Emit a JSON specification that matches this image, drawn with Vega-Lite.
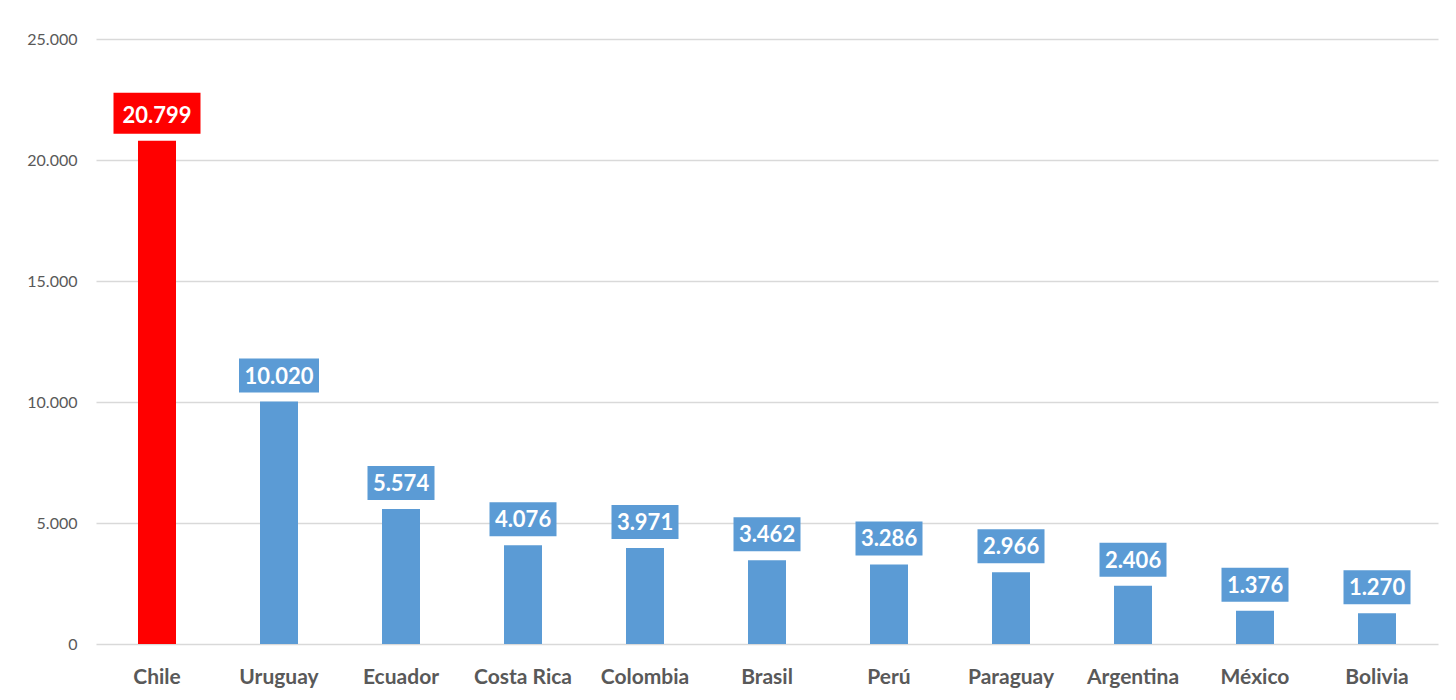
{
  "$schema": "https://vega.github.io/schema/vega-lite/v6.json",
  "autosize": "none",
  "width": 1342,
  "height": 605,
  "padding": {"left": 96, "top": 39, "right": 18, "bottom": 56},
  "background": "#ffffff",
  "config": {
    "view": {"stroke": null},
    "font": "Lato"
  },
  "data": {
    "values": [
      {"pais": "Chile", "valor": 20799},
      {"pais": "Uruguay", "valor": 10020},
      {"pais": "Ecuador", "valor": 5574},
      {"pais": "Costa Rica", "valor": 4076},
      {"pais": "Colombia", "valor": 3971},
      {"pais": "Brasil", "valor": 3462},
      {"pais": "Perú", "valor": 3286},
      {"pais": "Paraguay", "valor": 2966},
      {"pais": "Argentina", "valor": 2406},
      {"pais": "México", "valor": 1376},
      {"pais": "Bolivia", "valor": 1270}
    ]
  },
  "encoding": {
    "x": {
      "field": "pais",
      "type": "nominal",
      "sort": null,
      "scale": {"paddingInner": 0, "paddingOuter": 0},
      "axis": {
        "title": null,
        "labelAngle": 0,
        "labelFont": "Lato",
        "labelFontSize": 21,
        "labelFontWeight": "bold",
        "labelColor": "#595959",
        "labelPadding": 22,
        "ticks": false,
        "domain": false
      }
    },
    "y": {
      "field": "valor",
      "type": "quantitative",
      "scale": {"domain": [0, 25000], "nice": false},
      "axis": {
        "title": null,
        "values": [0, 5000, 10000, 15000, 20000, 25000],
        "labelExpr": "replace(format(datum.value, ','), ',', '.')",
        "labelFont": "Lato",
        "labelFontSize": 16,
        "labelColor": "#595959",
        "labelPadding": 19,
        "ticks": false,
        "domain": false,
        "gridColor": "#d9d9d9",
        "gridWidth": 1.5
      }
    }
  },
  "layer": [
    {
      "mark": {"type": "bar", "width": 38},
      "encoding": {
        "color": {
          "condition": {"test": "datum.pais === 'Chile'", "value": "#FF0000"},
          "value": "#5B9BD5"
        }
      }
    },
    {
      "transform": [{"filter": "datum.pais === 'Chile'"}],
      "mark": {"type": "bar", "width": 87, "yOffset": -7, "y2Offset": -48, "color": "#FF0000"},
      "encoding": {"y2": {"field": "valor"}}
    },
    {
      "transform": [{"filter": "datum.pais === 'Uruguay'"}],
      "mark": {"type": "bar", "width": 80, "yOffset": -9, "y2Offset": -43, "color": "#5B9BD5"},
      "encoding": {"y2": {"field": "valor"}}
    },
    {
      "transform": [{"filter": "datum.valor < 10000"}],
      "mark": {"type": "bar", "width": 67, "yOffset": -9, "y2Offset": -43, "color": "#5B9BD5"},
      "encoding": {"y2": {"field": "valor"}}
    },
    {
      "transform": [{"calculate": "replace(format(datum.valor, ','), ',', '.')", "as": "etiqueta"}],
      "mark": {"type": "text", "color": "#ffffff", "font": "Lato", "fontSize": 22, "fontWeight": "bold", "baseline": "middle", "align": "center", "yOffset": -25},
      "encoding": {"text": {"field": "etiqueta"}}
    }
  ]
}
